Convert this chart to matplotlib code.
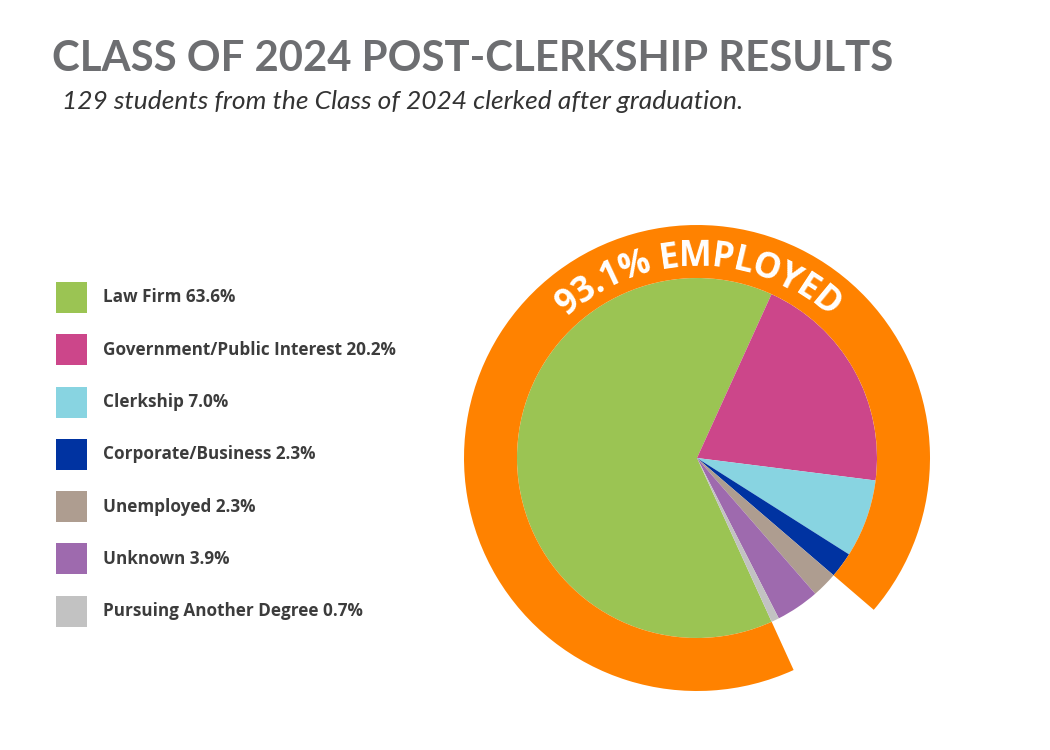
import numpy as np
import matplotlib
matplotlib.use("Agg")
import matplotlib.pyplot as plt
from matplotlib.patches import Rectangle
from matplotlib.font_manager import FontProperties

# data
labels = ["Law Firm", "Government/Public Interest", "Clerkship",
          "Corporate/Business", "Unemployed", "Unknown",
          "Pursuing Another Degree"]
shares = [63.6, 20.2, 7.0, 2.3, 2.3, 3.9, 0.7]
colors = ["#9BC453", "#CC468A", "#88D4E1", "#0033A1",
          "#AE9D90", "#9E6AAE", "#C2C2C2"]
employed_idx = [0, 1, 2, 3]
employed = sum(shares[i] for i in employed_idx)
ring_label = "%.1f%% EMPLOYED" % employed

title = "CLASS OF 2024 POST-CLERKSHIP RESULTS"
subtitle = "129 students from the Class of 2024 clerked after graduation."

W, H = 1050, 750
fig = plt.figure(figsize=(W / 100, H / 100), dpi=100)
ax = fig.add_axes([0, 0, 1, 1])

cx, cy = 697, H - 458
start = -65.5
r_pie, r_ring = 180, 233
orange = "#FF8200"

# inner pie
ax.pie(shares, colors=colors, startangle=start, counterclock=False,
       radius=r_pie, center=(cx, cy), wedgeprops=dict(linewidth=0))

# orange ring over the employed part
ax.pie([employed, 100 - employed], colors=[orange, "none"], startangle=start,
       counterclock=False, radius=r_ring, center=(cx, cy),
       wedgeprops=dict(width=r_ring - r_pie, linewidth=0))

ax.set_xlim(0, W)
ax.set_ylim(0, H)
ax.set_aspect("equal")
ax.axis("off")

# titles
ax.text(52, H - 71, title, fontsize=30.2, fontweight="bold", family="Lato",
        color="#6D6E71", va="baseline", ha="left")
ax.text(62, H - 109, subtitle, fontsize=19, style="italic", family="Lato",
        color="#333333", va="baseline", ha="left")

# legend
for i, (lab, val, col) in enumerate(zip(labels, shares, colors)):
    yc = H - (297.5 + i * 52.25)
    ax.add_patch(Rectangle((56, yc - 15.5), 31, 31, color=col, lw=0))
    ax.text(103, yc, "%s %.1f%%" % (lab, val), fontsize=12.3,
            fontweight="bold", family="Open Sans", color="#3C3C3C",
            va="center", ha="left")

# curved text along the ring
fig.canvas.draw()
renderer = fig.canvas.get_renderer()
fp = FontProperties(family="Open Sans", weight="bold", size=25)
widths = []
for ch in ring_label:
    w, h, d = renderer.get_text_width_height_descent(ch, fp, ismath=False)
    widths.append(w * 1.03)
r_text = (r_pie + r_ring) / 2 - 1
total = sum(widths)
mid_angle = 89.5
ang = np.radians(mid_angle) + total / 2 / r_text
for ch, w in zip(ring_label, widths):
    a = ang - w / 2 / r_text
    x = cx + r_text * np.cos(a)
    y = cy + r_text * np.sin(a)
    ax.text(x, y, ch, fontproperties=fp, color="white", ha="center",
            va="center_baseline", rotation=np.degrees(a) - 90,
            rotation_mode="anchor")
    ang -= w / r_text

fig.savefig("out.png", dpi=100, facecolor="white")
